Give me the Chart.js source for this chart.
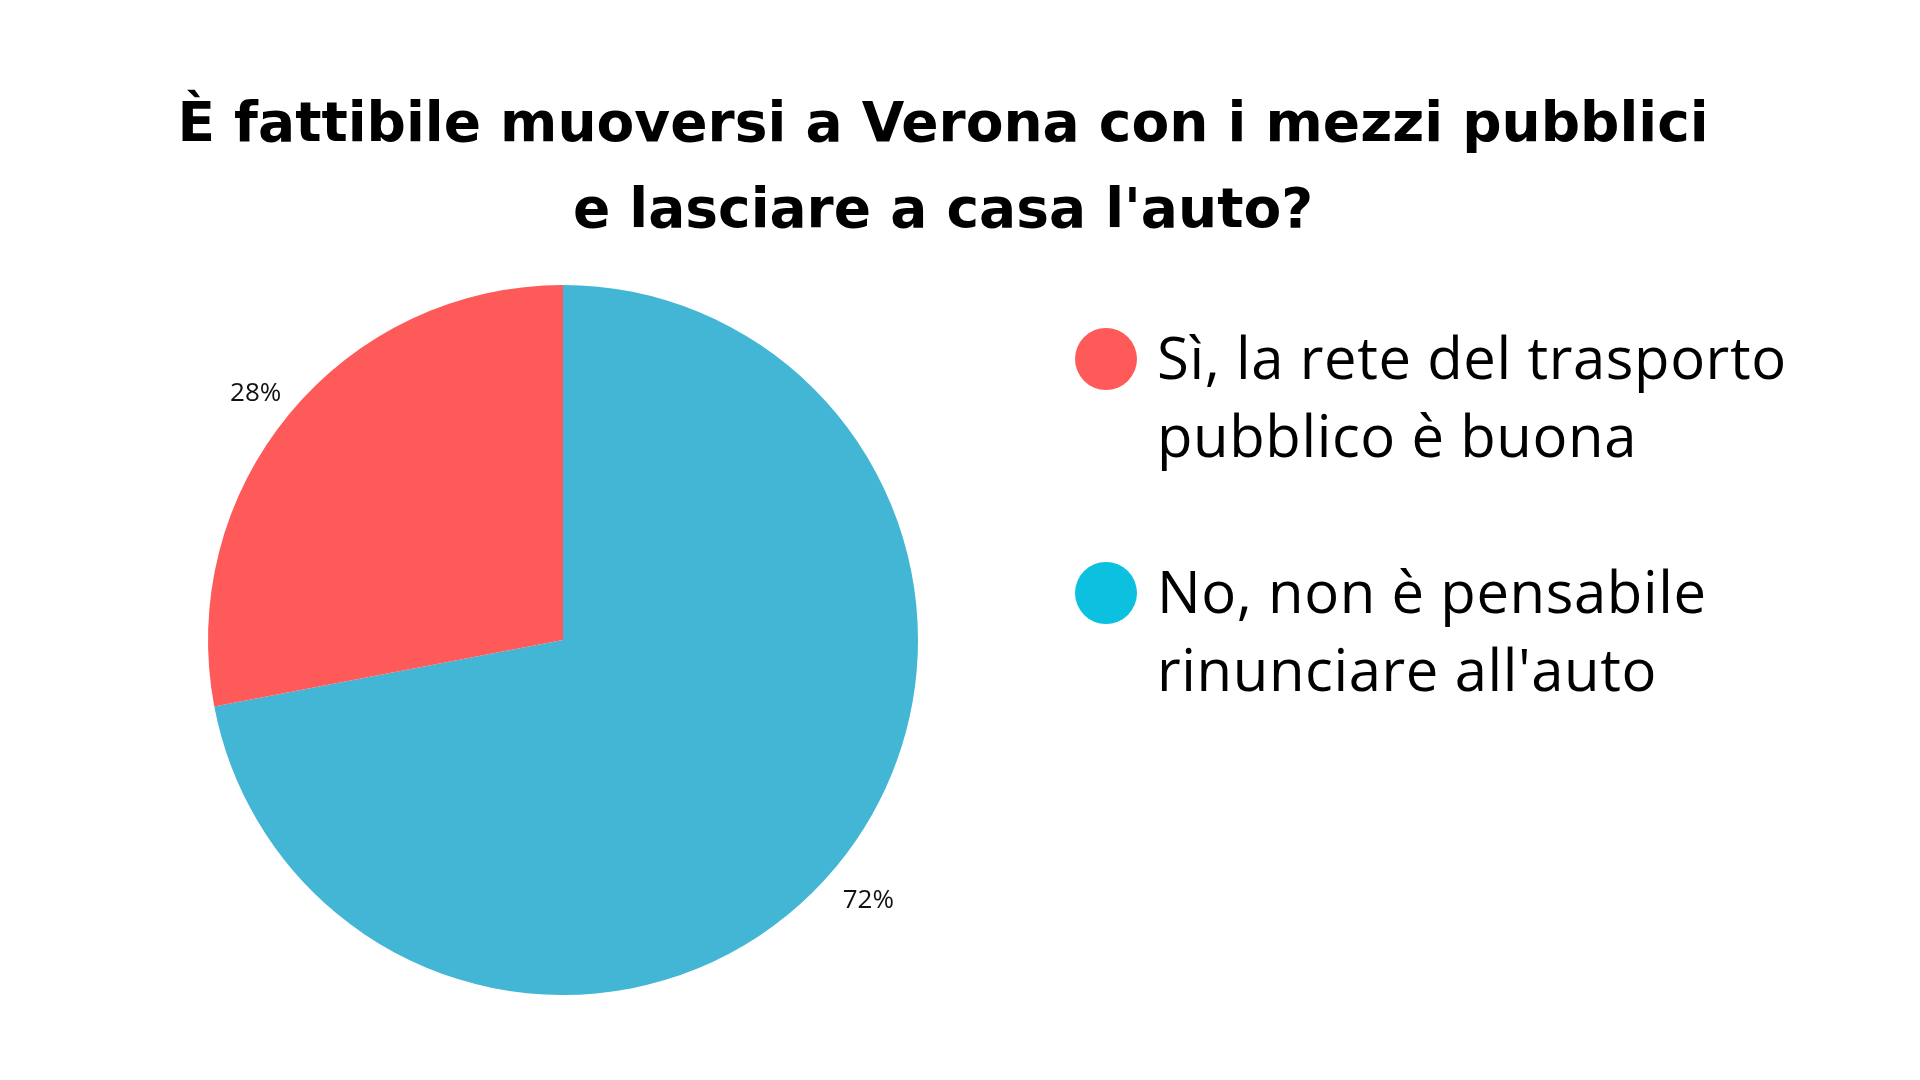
<!DOCTYPE html>
<html lang="it">
<head>
<meta charset="utf-8">
<title>Mezzi pubblici a Verona</title>
<script src="https://cdn.jsdelivr.net/npm/chart.js@4.4.1/dist/chart.umd.min.js"></script>
<style>
  html, body { margin: 0; padding: 0; background: #ffffff; }
  #wrap { position: relative; width: 1920px; height: 1080px; overflow: hidden; }
  #chart { position: absolute; left: 0; top: 0; }
  #title {
    position: absolute; left: 0; top: 79px; width: 1886px;
    text-align: center; font-family: 'DejaVu Sans', sans-serif; font-weight: bold;
    font-size: 55px; line-height: 86px; color: #000; letter-spacing: 0;
  }
  #legend { position: absolute; left: 1075px; top: 318px; }
  .item { display: flex; align-items: flex-start; margin-bottom: 78px; }
  .dot { width: 62px; height: 62px; border-radius: 50%; margin-top: 10px; margin-right: 20px; flex: none; }
  .txt {
    font-family: 'Open Sans', sans-serif; font-size: 58px; line-height: 78px;
    letter-spacing: 0.6px; color: #000; white-space: nowrap;
  }
</style>
</head>
<body>
<div id="wrap">
  <canvas id="chart" width="1920" height="1080"></canvas>
  <div id="title">È fattibile muoversi a Verona con i mezzi pubblici<br>e lasciare a casa l'auto?</div>
  <div id="legend"></div>
</div>
<script>
// ── Dati del sondaggio (ordine del grafico: prima il blu, in senso orario dall'alto)
const labels      = ['No, non è pensabile rinunciare all\'auto', 'Sì, la rete del trasporto pubblico è buona'];
const values      = [72, 28];
const pieColors   = ['#42B6D4', '#FF5A5A'];

// Legenda: ordine e righe come nel riferimento
const legendLines  = [
    ['Sì, la rete del trasporto', 'pubblico è buona'],
    ['No, non è pensabile', 'rinunciare all\'auto']
];
const legendColors = ['#FF5A5A', '#0CC0DF'];

// ── Legenda in HTML
const legendEl = document.getElementById('legend');
legendLines.forEach((lines, i) => {
    const item = document.createElement('div');
    item.className = 'item';
    const dot = document.createElement('div');
    dot.className = 'dot';
    dot.style.background = legendColors[i];
    const txt = document.createElement('div');
    txt.className = 'txt';
    txt.innerHTML = lines.join('<br>');
    item.appendChild(dot);
    item.appendChild(txt);
    legendEl.appendChild(item);
});

// Etichette percentuali fuori dalla torta
const outsideLabels = {
    id: 'outsideLabels',
    afterDatasetsDraw(chart) {
        const { ctx } = chart;
        const meta = chart.getDatasetMeta(0);
        ctx.save();
        ctx.font = '26px "Open Sans", sans-serif';
        ctx.fillStyle = '#111';
        ctx.textAlign = 'center';
        ctx.textBaseline = 'middle';
        meta.data.forEach((arc, i) => {
            const p   = arc.getProps(['x', 'y', 'startAngle', 'endAngle', 'outerRadius'], true);
            const mid = (p.startAngle + p.endAngle) / 2;
            const r   = p.outerRadius * 1.12;
            ctx.fillText(values[i] + '%', p.x + Math.cos(mid) * r - 1, p.y + Math.sin(mid) * r + 7);
        });
        ctx.restore();
    }
};

new Chart(document.getElementById('chart').getContext('2d'), {
    type: 'pie',
    data: {
        labels,
        datasets: [{
            data:            values,
            backgroundColor: pieColors,
            borderWidth:     0
        }]
    },
    options: {
        responsive: false,
        animation:  false,
        layout: { padding: { left: 208, right: 1002, top: 285, bottom: 85 } },
        plugins: {
            legend:  { display: false },
            title:   { display: false },
            tooltip: { enabled: false }
        }
    },
    plugins: [outsideLabels]
});
</script>
</body>
</html>
